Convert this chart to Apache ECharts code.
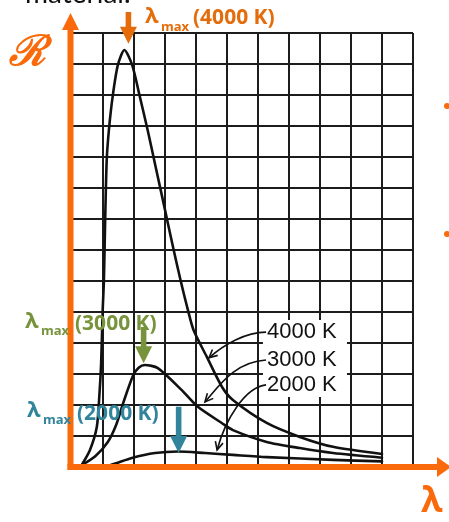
<!DOCTYPE html>
<html><head><meta charset="utf-8">
<script src="https://cdn.jsdelivr.net/npm/echarts@6/dist/echarts.min.js"></script>
<style>html,body{margin:0;padding:0;background:#fff;}#c{width:449px;height:522px;}</style>
</head><body><div id="c"></div>
<script>
// Grid extents (in grid units)
const xRange = [0, 11];
const yRange = [0, 14];

// Spectral radiance curves [lambda (grid units), R (grid units)]
const curve4000 = [[0.31,0.06],[0.58,0.55],[0.80,1.29],[0.88,2.26],[0.94,3.35],[0.99,5.06],[1.03,6.03],[1.07,7.97],[1.12,9.90],[1.19,10.87],[1.31,11.94],[1.48,12.97],[1.69,13.45],[1.94,12.97],[2.19,11.94],[2.44,10.87],[2.65,9.90],[2.86,8.94],[3.07,7.97],[3.28,7.00],[3.50,6.03],[3.74,5.06],[3.92,4.42],[4.35,3.55],[4.84,2.58],[5.19,2.16],[6.28,1.42],[7.35,0.97],[8.42,0.65],[10.0,0.42]];
const curve3000 = [[0.31,0.06],[0.75,0.35],[1.15,0.8],[1.42,1.35],[1.65,2.06],[1.97,2.95],[2.15,3.2],[2.35,3.29],[2.77,3.19],[3.54,2.48],[4.06,1.94],[4.83,1.42],[5.19,1.19],[6.28,0.81],[7.35,0.61],[8.42,0.45],[10.0,0.30]];
const curve2000 = [[0.74,0.0],[1.23,0.06],[1.93,0.29],[2.68,0.45],[3.42,0.50],[4.29,0.45],[5.19,0.39],[6.28,0.32],[8.42,0.23],[10.0,0.18]];
const seriesNames = ['4000 K', '3000 K', '2000 K'];

// Peak (lambda max) marker positions, grid units: [x, tipY, topY]
const peakMarks = [[1.82, 13.65, 14.68], [2.31, 3.35, 4.52], [3.44, 0.45, 1.94]];
const peakTexts = ['(4000 K)', '(3000 K)', '(2000 K)'];

// Pointer curves from labels to the curves: [start, cp1, cp2, end]
const pointers = [
  [[6.26,4.35],[5.6,4.35],[4.9,3.95],[4.42,3.52]],
  [[6.26,3.45],[5.26,3.39],[4.77,2.65],[4.29,2.10]],
  [[6.26,2.65],[5.58,2.58],[4.94,1.52],[4.68,0.55]]
];

const chart = echarts.init(document.getElementById('c'));
const curves = [curve4000, curve3000, curve2000];

chart.setOption({
  animation: false,
  grid: { left: 72, top: 33, width: 341, height: 434 },
  xAxis: {
    type: 'value', min: xRange[0], max: xRange[1], interval: 1,
    axisLine: { show: false }, axisTick: { show: false }, axisLabel: { show: false },
    splitLine: { show: true, lineStyle: { color: '#1c1c1c', width: 2 } }
  },
  yAxis: {
    type: 'value', min: yRange[0], max: yRange[1], interval: 1,
    axisLine: { show: false }, axisTick: { show: false }, axisLabel: { show: false },
    splitLine: { show: true, lineStyle: { color: '#1c1c1c', width: 2 } }
  },
  series: curves.map((d, i) => ({
    name: seriesNames[i], type: 'line', data: d, smooth: 0.25,
    symbol: 'none', z: 4,
    lineStyle: { color: '#111', width: 2.6, join: 'round', cap: 'round' }
  }))
});

const P = (x, y) => chart.convertToPixel({ gridIndex: 0 }, [x, y]);
const g = [];
const ORANGE = '#FA6A0A', ORANGE_T = '#E46C0A', GREEN = '#77933C', TEAL = '#31849B';
const peakColors = [ORANGE_T, GREEN, TEAL];

// top cut-off text
g.push({ type: 'text', left: 25, top: -20, z: 10, style: { text: 'material.', font: '28px Lato, "Open Sans", sans-serif', fill: '#111' } });

// white box behind labels
const b1 = P(6.16, 4.74), b2 = P(8.87, 2.26);
g.push({ type: 'rect', z: 5, shape: { x: b1[0], y: b1[1], width: b2[0] - b1[0], height: b2[1] - b1[1] }, style: { fill: '#fff' } });
seriesNames.forEach((n, i) => {
  const p = pointers[i][0];
  const s = P(p[0], p[1]);
  g.push({ type: 'text', z: 6, x: s[0] + 1, y: s[1], style: { text: n, font: '22px "Liberation Sans", Arial, sans-serif', fill: '#111', verticalAlign: 'middle', align: 'left' } });
});
// pointers
pointers.forEach((pt) => {
  const [a, c1, c2, e] = pt.map(q => P(q[0], q[1]));
  g.push({ type: 'bezierCurve', z: 6, shape: { x1: a[0], y1: a[1], cpx1: c1[0], cpy1: c1[1], cpx2: c2[0], cpy2: c2[1], x2: e[0], y2: e[1] }, style: { stroke: '#111', lineWidth: 1.6, fill: null } });
  const ang = Math.atan2(e[1] - c2[1], e[0] - c2[0]);
  const L = 9, w = 0.45;
  g.push({ type: 'polyline', z: 6, shape: { points: [
    [e[0] - L * Math.cos(ang - w), e[1] - L * Math.sin(ang - w)], e,
    [e[0] - L * Math.cos(ang + w), e[1] - L * Math.sin(ang + w)]] }, style: { stroke: '#111', lineWidth: 1.6, fill: null } });
});

// peak arrows
peakMarks.forEach((m, i) => {
  const tip = P(m[0], m[1]), top = P(m[0], m[2]);
  const x = tip[0], hl = 17, hw = 8.5, sw = 2.8;
  g.push({ type: 'polygon', z: 8, shape: { points: [
    [x - sw, top[1]], [x + sw, top[1]], [x + sw, tip[1] - hl], [x + hw, tip[1] - hl],
    [x, tip[1]], [x - hw, tip[1] - hl], [x - sw, tip[1] - hl]] }, style: { fill: peakColors[i] } });
});
// peak labels
const labelPos = [[145, 17, 161, 27, 193, 18], [25, 322, 41, 331, 75, 324], [27, 411, 43, 420, 77, 414]];
labelPos.forEach((lp, i) => {
  const c = peakColors[i];
  g.push({ type: 'text', z: 9, x: lp[0], y: lp[1], style: { text: 'λ', font: 'bold 22px "Open Sans", sans-serif', fill: c, verticalAlign: 'middle' } });
  g.push({ type: 'text', z: 9, x: lp[2], y: lp[3], style: { text: 'max', font: 'bold 13px "Open Sans", sans-serif', fill: c, verticalAlign: 'middle' } });
  g.push({ type: 'text', z: 9, x: lp[4], y: lp[5], style: { text: peakTexts[i], font: 'bold 21px "Open Sans", sans-serif', fill: c, verticalAlign: 'middle' } });
});

// orange axes
const o = P(0, 0);
const ox = o[0] - 1.5, oy = o[1];
g.push({ type: 'line', z: 7, shape: { x1: ox, y1: oy + 3, x2: ox, y2: 29 }, style: { stroke: ORANGE, lineWidth: 6 } });
g.push({ type: 'polygon', z: 7, shape: { points: [[ox - 8.5, 30], [ox + 8.5, 30], [ox, 13]] }, style: { fill: ORANGE } });
g.push({ type: 'line', z: 7, shape: { x1: ox - 3, y1: oy, x2: 438, y2: oy }, style: { stroke: ORANGE, lineWidth: 6 } });
g.push({ type: 'polygon', z: 7, shape: { points: [[437, oy - 10], [437, oy + 10], [451, oy]] }, style: { fill: ORANGE } });
g.push({ type: 'text', z: 9, x: 9, y: 54, style: { text: 'ℛ', font: 'bold italic 42px "DejaVu Serif", serif', fill: ORANGE, verticalAlign: 'middle' } });
g.push({ type: 'text', z: 9, x: 421, y: 502, style: { text: 'λ', font: 'bold 35px "Open Sans", sans-serif', fill: ORANGE, verticalAlign: 'middle' } });
g.push({ type: 'circle', z: 9, shape: { cx: 447, cy: 106, r: 3 }, style: { fill: ORANGE } });
g.push({ type: 'circle', z: 9, shape: { cx: 447, cy: 234, r: 3 }, style: { fill: ORANGE } });

chart.setOption({ graphic: g });
</script>
</body></html>
